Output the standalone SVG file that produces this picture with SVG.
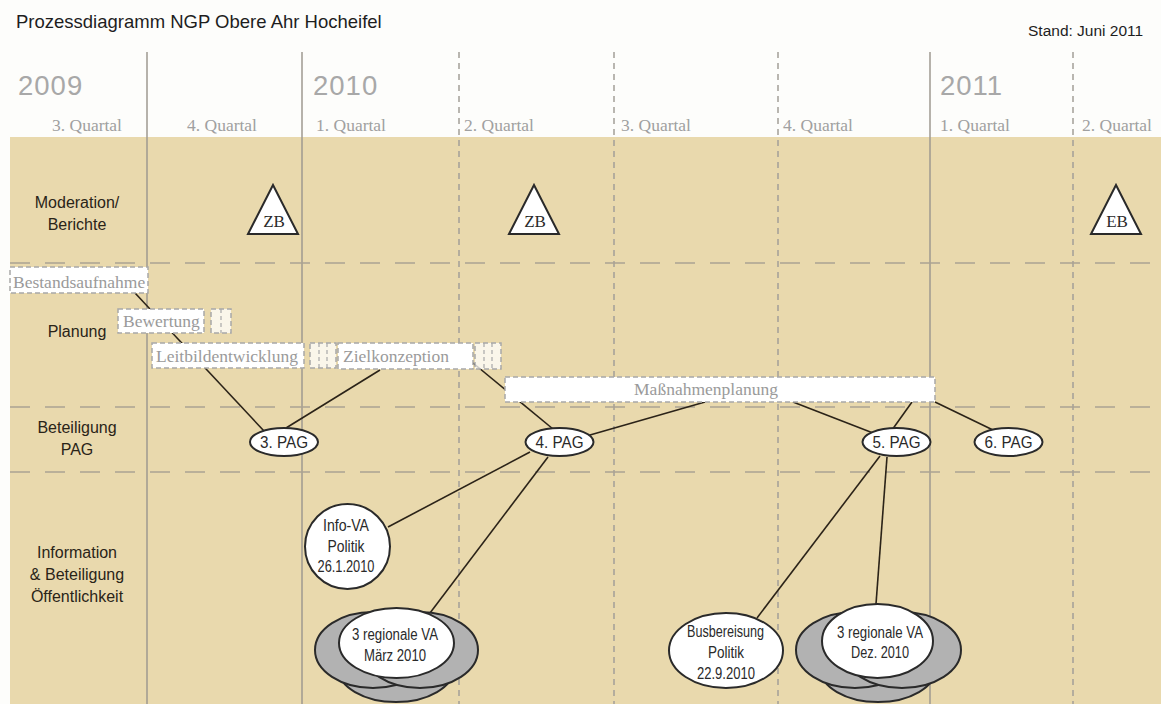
<svg xmlns="http://www.w3.org/2000/svg" width="1161" height="704" viewBox="0 0 1161 704">
<style>
.sans{font-family:"Liberation Sans",Arial,sans-serif}
.serif{font-family:"Liberation Serif","Times New Roman",serif}
.title{font-size:18.5px;fill:#1e1e1e}
.year{font-size:27.5px;fill:#a8a8a8;letter-spacing:1px}
.q{font-size:17.5px;fill:#a0a0a0}
.row{font-size:16px;fill:#2a2418;text-anchor:middle}
.vsolid{stroke:#9e9990;stroke-width:1.5}
.vdash{stroke:#a39f98;stroke-width:1.5;stroke-dasharray:6 5}
.hdash{stroke:#aaa293;stroke-width:1.5;stroke-dasharray:20 15}
.box{fill:#ffffff;stroke:#a8a8a8;stroke-width:1.5;stroke-dasharray:5 3}
.bsm{fill:#ffffff;fill-opacity:0.75;stroke:#a8a8a8;stroke-width:1.5;stroke-dasharray:5 3}
.btxt{font-size:17.5px;fill:#9a9a9a}
.con line{stroke:#2b2318;stroke-width:1.6}
.node{fill:#ffffff;stroke:#2a2a2a;stroke-width:2}
.gray{fill:#b2b2b2;stroke:#2a2a2a;stroke-width:2}
.ntxt{font-size:16px;fill:#2a2a2a;text-anchor:middle}
.tri{font-size:17px;fill:#2a2a2a;text-anchor:middle}
</style>
<rect x="0" y="0" width="1161" height="704" fill="#fdfdfb"/>
<rect x="10" y="137" width="1151" height="567" fill="#e9d9ad"/>
<text class="sans title" x="16" y="28">Prozessdiagramm NGP Obere Ahr Hocheifel</text>
<text class="sans" x="1028" y="36" font-size="15.5" fill="#1e1e1e">Stand: Juni 2011</text>
<g id="grid">
<line class="vsolid" x1="147" y1="52" x2="147" y2="704"/>
<line class="vsolid" x1="302" y1="52" x2="302" y2="704"/>
<line class="vsolid" x1="930" y1="52" x2="930" y2="704"/>
<line class="vdash" x1="459" y1="52" x2="459" y2="704"/>
<line class="vdash" x1="614" y1="52" x2="614" y2="704"/>
<line class="vdash" x1="778" y1="52" x2="778" y2="704"/>
<line class="vdash" x1="1073" y1="52" x2="1073" y2="704"/>
<line class="hdash" x1="10" y1="263" x2="1161" y2="263"/>
<line class="hdash" x1="10" y1="407" x2="1161" y2="407"/>
<line class="hdash" x1="10" y1="472" x2="1161" y2="472"/>
</g>
<g id="timeline">
<text class="sans year" x="18" y="95">2009</text>
<text class="sans year" x="313" y="95">2010</text>
<text class="sans year" x="940" y="95">2011</text>
<text class="serif q" x="52" y="131">3. Quartal</text>
<text class="serif q" x="187" y="131">4. Quartal</text>
<text class="serif q" x="316" y="131">1. Quartal</text>
<text class="serif q" x="464" y="131">2. Quartal</text>
<text class="serif q" x="621" y="131">3. Quartal</text>
<text class="serif q" x="783" y="131">4. Quartal</text>
<text class="serif q" x="940" y="131">1. Quartal</text>
<text class="serif q" x="1082" y="131">2. Quartal</text>
</g>
<g id="rows">
<text class="sans row" x="77" y="208">Moderation/</text>
<text class="sans row" x="77" y="230">Berichte</text>
<text class="sans row" x="77" y="337">Planung</text>
<text class="sans row" x="77" y="433">Beteiligung</text>
<text class="sans row" x="77" y="455">PAG</text>
<text class="sans row" x="77" y="558">Information</text>
<text class="sans row" x="77" y="580">&amp; Beteiligung</text>
<text class="sans row" x="77" y="602">Öffentlichkeit</text>
</g>
<g id="connectors" class="con">
<line x1="135" y1="293" x2="264" y2="431"/>
<line x1="380" y1="370" x2="286" y2="428"/>
<line x1="473" y1="363" x2="553" y2="429"/>
<line x1="590" y1="435" x2="705" y2="402"/>
<line x1="793" y1="402" x2="873" y2="433"/>
<line x1="912" y1="402" x2="892" y2="430"/>
<line x1="935" y1="402" x2="993" y2="430"/>
<line x1="530" y1="452" x2="388" y2="527"/>
<line x1="548" y1="457" x2="430" y2="613"/>
<line x1="880" y1="456" x2="757" y2="618"/>
<line x1="887" y1="457" x2="876" y2="604"/>
</g>
<g id="bestandsaufnahme">
<rect class="box" x="10" y="267" width="138" height="26"/>
<text class="serif btxt" x="13" y="288">Bestandsaufnahme</text>
</g>
<g id="bewertung">
<rect class="box" x="118" y="309" width="86" height="24"/>
<rect class="bsm" x="211" y="309" width="20" height="24"/>
<line x1="221" y1="309" x2="221" y2="333" stroke="#a8a8a8" stroke-width="1.2" stroke-dasharray="4 3"/>
<text class="serif btxt" x="123" y="327">Bewertung</text>
</g>
<g id="leitbildentwicklung">
<rect class="box" x="152" y="343" width="152" height="25"/>
<rect class="bsm" x="310" y="343" width="26" height="25"/>
<line x1="319" y1="343" x2="319" y2="368" stroke="#a8a8a8" stroke-width="1.2" stroke-dasharray="4 3"/>
<line x1="327" y1="343" x2="327" y2="368" stroke="#a8a8a8" stroke-width="1.2" stroke-dasharray="4 3"/>
<text class="serif btxt" x="156" y="362">Leitbildentwicklung</text>
</g>
<g id="zielkonzeption">
<rect class="box" x="338" y="343" width="135" height="26"/>
<rect class="bsm" x="475" y="343" width="26" height="26"/>
<line x1="484" y1="343" x2="484" y2="369" stroke="#a8a8a8" stroke-width="1.2" stroke-dasharray="4 3"/>
<line x1="492" y1="343" x2="492" y2="369" stroke="#a8a8a8" stroke-width="1.2" stroke-dasharray="4 3"/>
<text class="serif btxt" x="343" y="362">Zielkonzeption</text>
</g>
<g id="massnahmenplanung">
<rect class="box" x="505" y="377" width="430" height="25"/>
<text class="serif btxt" x="706" y="395" text-anchor="middle">Maßnahmenplanung</text>
</g>
<g id="zb1">
<polygon points="273,185 298,234 248,234" class="node"/>
<text class="serif tri" x="274" y="227">ZB</text>
</g>
<g id="zb2">
<polygon points="534,185 559,234 509,234" class="node"/>
<text class="serif tri" x="535" y="227">ZB</text>
</g>
<g id="eb">
<polygon points="1116,185 1141,234 1091,234" class="node"/>
<text class="serif tri" x="1117" y="227">EB</text>
</g>
<g id="pag3">
<ellipse class="node" cx="284" cy="442" rx="34" ry="14"/>
<text class="sans ntxt" x="284" y="448" textLength="48" lengthAdjust="spacingAndGlyphs">3. PAG</text>
</g>
<g id="pag4">
<ellipse class="node" cx="559.5" cy="442" rx="34" ry="14"/>
<text class="sans ntxt" x="559.5" y="448" textLength="48" lengthAdjust="spacingAndGlyphs">4. PAG</text>
</g>
<g id="pag5">
<ellipse class="node" cx="896.5" cy="442" rx="34" ry="14"/>
<text class="sans ntxt" x="896.5" y="448" textLength="48" lengthAdjust="spacingAndGlyphs">5. PAG</text>
</g>
<g id="pag6">
<ellipse class="node" cx="1008.5" cy="442" rx="34" ry="14"/>
<text class="sans ntxt" x="1008.5" y="448" textLength="48" lengthAdjust="spacingAndGlyphs">6. PAG</text>
</g>
<g id="infova">
<circle class="node" cx="347.5" cy="546.5" r="42.5"/>
<text class="sans ntxt" x="346" y="531" textLength="46" lengthAdjust="spacingAndGlyphs">Info-VA</text>
<text class="sans ntxt" x="346" y="552" textLength="37" lengthAdjust="spacingAndGlyphs">Politik</text>
<text class="sans ntxt" x="346" y="572" textLength="57" lengthAdjust="spacingAndGlyphs">26.1.2010</text>
</g>
<g id="regva-maerz">
<ellipse class="gray" cx="396" cy="668" rx="58" ry="34"/>
<ellipse class="gray" cx="373" cy="650" rx="58" ry="38"/>
<ellipse class="gray" cx="420" cy="650" rx="58" ry="38"/>
<ellipse class="node" cx="396.5" cy="643" rx="57.5" ry="35"/>
<text class="sans ntxt" x="395" y="640" textLength="86" lengthAdjust="spacingAndGlyphs">3 regionale VA</text>
<text class="sans ntxt" x="395" y="661" textLength="62" lengthAdjust="spacingAndGlyphs">März 2010</text>
</g>
<g id="busbereisung">
<ellipse class="node" cx="726" cy="650.5" rx="57" ry="37.5"/>
<text class="sans ntxt" x="725.5" y="637" textLength="77" lengthAdjust="spacingAndGlyphs">Busbereisung</text>
<text class="sans ntxt" x="726" y="658" textLength="36" lengthAdjust="spacingAndGlyphs">Politik</text>
<text class="sans ntxt" x="726" y="679" textLength="58" lengthAdjust="spacingAndGlyphs">22.9.2010</text>
</g>
<g id="regva-dez">
<ellipse class="gray" cx="878" cy="668" rx="58" ry="34"/>
<ellipse class="gray" cx="855" cy="650" rx="59" ry="38"/>
<ellipse class="gray" cx="902" cy="650" rx="59" ry="38"/>
<ellipse class="node" cx="877.5" cy="641" rx="55.5" ry="37"/>
<text class="sans ntxt" x="880" y="638" textLength="86" lengthAdjust="spacingAndGlyphs">3 regionale VA</text>
<text class="sans ntxt" x="880" y="658" textLength="58" lengthAdjust="spacingAndGlyphs">Dez. 2010</text>
</g>
</svg>
